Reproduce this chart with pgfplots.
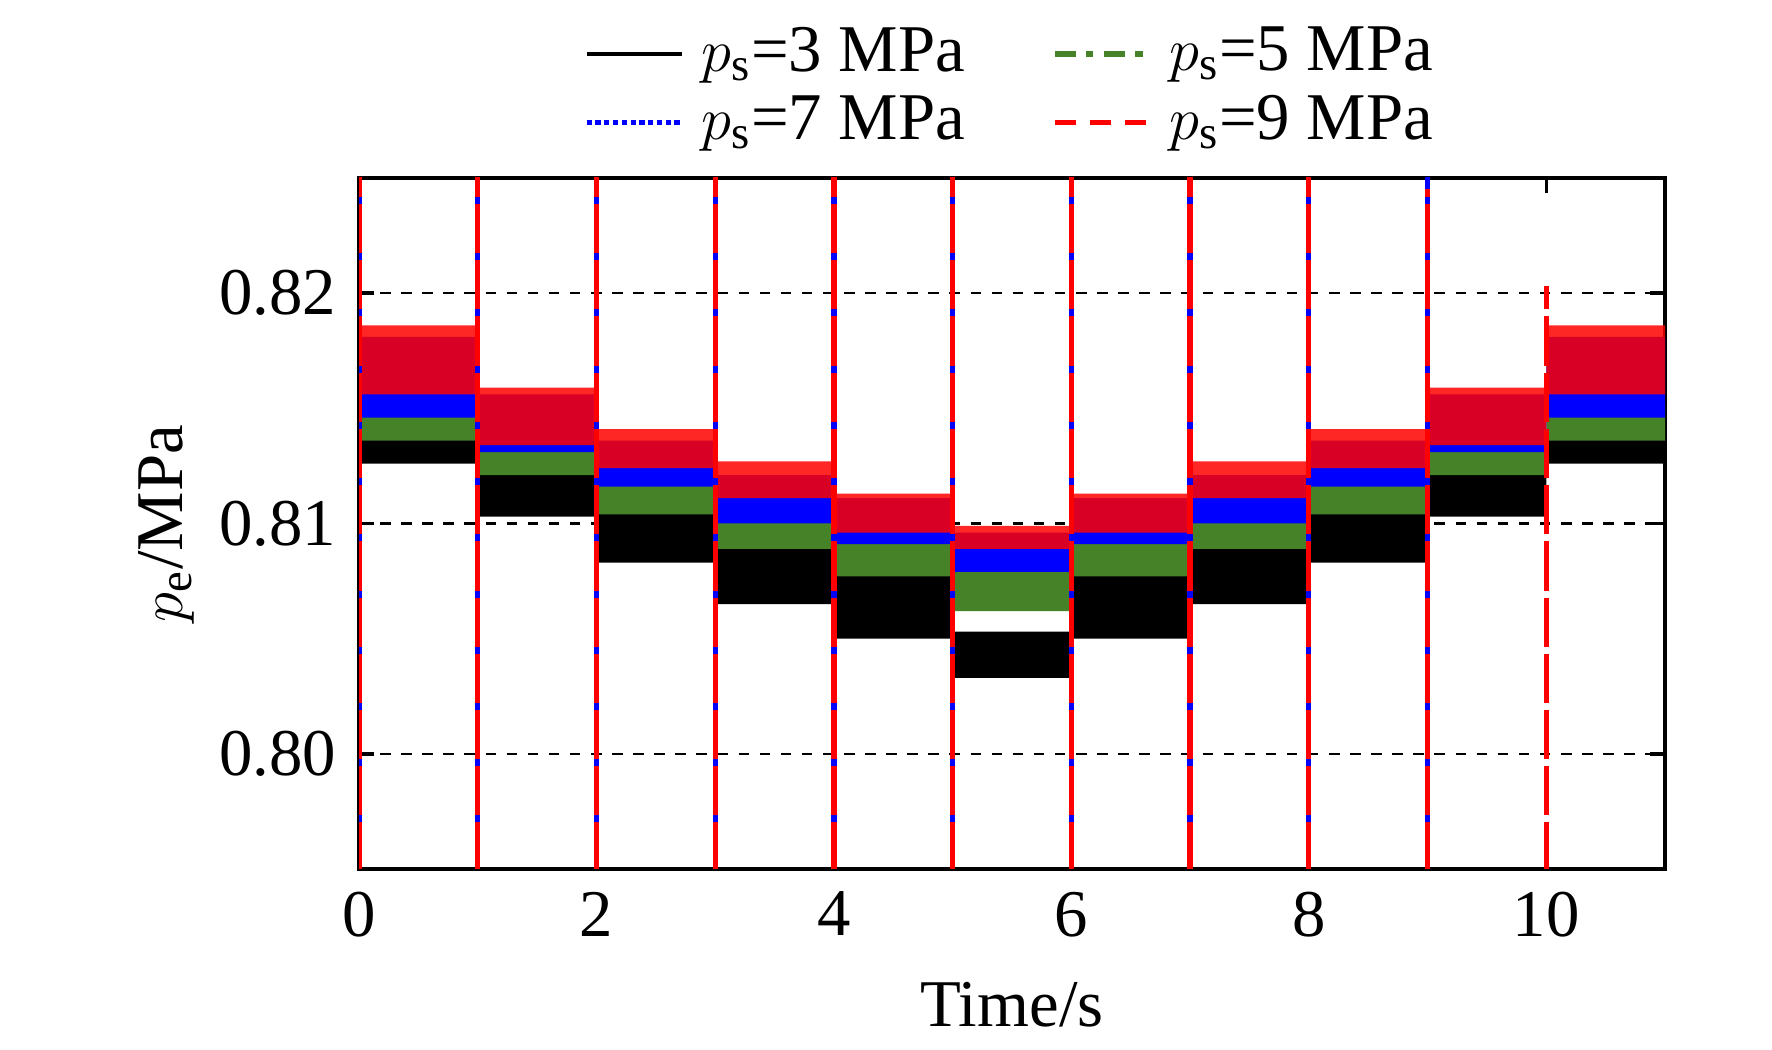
\documentclass[border=0pt]{standalone}
\usepackage{pgfplots}
\pgfplotsset{compat=1.18}
\usepgfplotslibrary{fillbetween}
\usepackage{fontspec}
\setmainfont{Liberation Serif}
\definecolor{cg}{RGB}{70,130,40}
\begin{document}
\fontsize{19}{22}\selectfont
\begin{tikzpicture}
\begin{axis}[name=a,
 scale only axis, width=13.06cm, height=6.91cm,
 xmin=0, xmax=11, ymin=0.795, ymax=0.825,
 xtick={0,2,4,6,8,10}, ytick={0.80,0.81,0.82},
 yticklabel style={/pgf/number format/fixed,/pgf/number format/precision=2,/pgf/number format/fixed zerofill},
 /pgf/number format/assume math mode=true,
 tick align=inside, axis line style={line width=1.2pt}, tick style={black,line width=1pt},
 ymajorgrids, grid style={black,dashed,line width=0.6pt},
 xlabel={Time/s}, ylabel={$p_\mathrm{e}$/MPa},
 ylabel style={yshift=-0.2cm},
 legend columns=2, legend style={draw=none, at={(0.5,1.02)}, anchor=south, column sep=0.8cm, font=\fontsize{19}{22}\selectfont, /tikz/every odd column/.style={column sep=0.1cm}},
 legend image code/.code={\draw[#1] (0cm,0cm) -- (0.95cm,0cm);},
 unbounded coords=jump,
 clip=true,
]
\addlegendimage{black,line width=1.2pt}
\addlegendentry{$p_\mathrm{s}$=3 MPa}
\addlegendimage{cg,dash pattern=on 6pt off 3pt on 2pt off 3pt,line width=1.5pt}
\addlegendentry{$p_\mathrm{s}$=5 MPa}
\addlegendimage{blue,densely dotted,line width=1.5pt}
\addlegendentry{$p_\mathrm{s}$=7 MPa}
\addlegendimage{red,dash pattern=on 6pt off 4pt,line width=1.5pt}
\addlegendentry{$p_\mathrm{s}$=9 MPa}
% black
\addplot[const plot, draw=none, name path=bh, forget plot] coordinates {(0,0.8141)(1,0.8121)(2,0.8106)(3,0.8091)(4,0.8079)(5,0.8053)(6,0.8079)(7,0.8091)(8,0.8106)(9,0.8121)(10,0.8141)(11,0.8141)};
\addplot[const plot, draw=none, name path=bl, forget plot] coordinates {(0,0.8126)(1,0.8103)(2,0.8083)(3,0.8065)(4,0.8050)(5,0.8033)(6,0.8050)(7,0.8065)(8,0.8083)(9,0.8103)(10,0.8126)(11,0.8126)};
\addplot[black, forget plot] fill between[of=bh and bl];
% green
\addplot[const plot, draw=none, name path=gh, forget plot] coordinates {(0,0.8151)(1,0.8131)(2,0.8121)(3,0.8111)(4,0.8102)(5,0.8087)(6,0.8102)(7,0.8111)(8,0.8121)(9,0.8131)(10,0.8151)(11,0.8151)};
\addplot[const plot, draw=none, name path=gl, forget plot] coordinates {(0,0.8136)(1,0.8121)(2,0.8104)(3,0.8089)(4,0.8077)(5,0.8062)(6,0.8077)(7,0.8089)(8,0.8104)(9,0.8121)(10,0.8136)(11,0.8136)};
\addplot[cg, forget plot] fill between[of=gh and gl];
% blue
\addplot[const plot, draw=none, name path=uh, forget plot] coordinates {(0,0.8181)(1,0.8156)(2,0.8136)(3,0.8121)(4,0.8111)(5,0.8096)(6,0.8111)(7,0.8121)(8,0.8136)(9,0.8156)(10,0.8181)(11,0.8181)};
\addplot[const plot, draw=none, name path=ul, forget plot] coordinates {(0,0.8146)(1,0.8131)(2,0.8116)(3,0.8100)(4,0.8091)(5,0.8079)(6,0.8091)(7,0.8100)(8,0.8116)(9,0.8131)(10,0.8146)(11,0.8146)};
\addplot[blue, forget plot] fill between[of=uh and ul];
% red
\addplot[const plot, draw=none, name path=rh, forget plot] coordinates {(0,0.8186)(1,0.8159)(2,0.8141)(3,0.8127)(4,0.8113)(5,0.8099)(6,0.8113)(7,0.8127)(8,0.8141)(9,0.8159)(10,0.8186)(11,0.8186)};
\addplot[const plot, draw=none, name path=rl, forget plot] coordinates {(0,0.8156)(1,0.8134)(2,0.8124)(3,0.8111)(4,0.8096)(5,0.8089)(6,0.8096)(7,0.8111)(8,0.8124)(9,0.8134)(10,0.8156)(11,0.8156)};
\addplot[red, fill opacity=0.85, forget plot] fill between[of=rh and rl];
% spikes
\addplot[blue, line width=1.5pt, forget plot] coordinates {(0,0.79)(0,0.83) (nan,nan) (1,0.79)(1,0.83) (nan,nan) (2,0.79)(2,0.83) (nan,nan) (3,0.79)(3,0.83) (nan,nan) (4,0.79)(4,0.83) (nan,nan) (5,0.79)(5,0.83) (nan,nan) (6,0.79)(6,0.83) (nan,nan) (7,0.79)(7,0.83) (nan,nan) (8,0.79)(8,0.83) (nan,nan) (9,0.79)(9,0.83)};
\addplot[red, line width=1.5pt, dash pattern=on 14pt off 2pt, forget plot] coordinates {(0,0.79)(0,0.83) (nan,nan) (1,0.79)(1,0.83) (nan,nan) (2,0.79)(2,0.83) (nan,nan) (3,0.79)(3,0.83) (nan,nan) (4,0.79)(4,0.83) (nan,nan) (5,0.79)(5,0.83) (nan,nan) (6,0.79)(6,0.83) (nan,nan) (7,0.79)(7,0.83) (nan,nan) (8,0.79)(8,0.83) (nan,nan) (9,0.79)(9,0.8245) (nan,nan) (10,0.79)(10,0.8203)};
\end{axis}
\path (a.south west) ++(-3.59cm,-1.8cm);
\path (a.north east) ++(1.07cm,1.78cm);
\end{tikzpicture}
\end{document}
